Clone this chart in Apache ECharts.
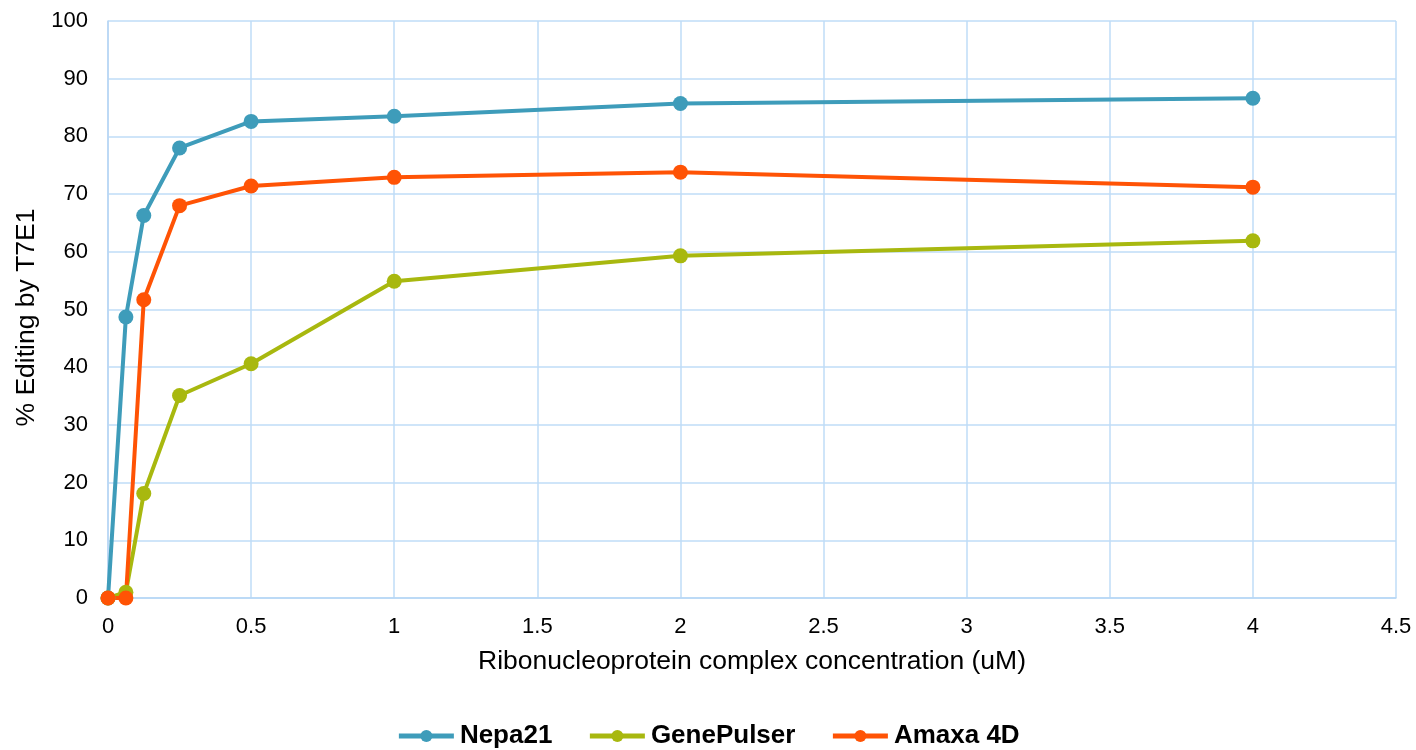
<!DOCTYPE html>
<html><head><meta charset="utf-8">
<script src="https://cdn.jsdelivr.net/npm/echarts@6/dist/echarts.min.js"></script>
<style>html,body{margin:0;padding:0;background:#fff}#c{width:1416px;height:750px}</style>
</head><body><div id="c"></div>
<script>
const concentrations = [0, 0.0625, 0.125, 0.25, 0.5, 1, 2, 4];
const nepa21 = [0, 48.7, 66.3, 78.0, 82.6, 83.5, 85.7, 86.6];
const genePulser = [0, 1.0, 18.1, 35.1, 40.6, 54.9, 59.3, 61.9];
const amaxa4D = [0, 0, 51.7, 68.0, 71.4, 72.9, 73.8, 71.2];
const seriesNames = ['Nepa21', 'GenePulser', 'Amaxa 4D'];
const colors = ['#3E9CBA', '#A8B80F', '#FF5305'];
const pair = arr => concentrations.map((x, i) => [x, arr[i]]);
const font = '"Liberation Sans", Arial, sans-serif';
const chart = echarts.init(document.getElementById('c'));
chart.setOption({
  animation: false,
  grid: {left: 108, right: 20, top: 21, bottom: 152},
  legend: {
    top: 718, left: 'center', itemWidth: 55, itemHeight: 15, itemGap: 35,
    lineStyle: {width: 5},
    textStyle: {fontFamily: font, fontSize: 26, fontWeight: 'bold', color: '#000', padding: [0, 0, 0, 1]},
    data: seriesNames
  },
  xAxis: {
    type: 'value', min: 0, max: 4.5, interval: 0.5,
    name: 'Ribonucleoprotein complex concentration (uM)', nameLocation: 'middle', nameGap: 50,
    nameTextStyle: {fontFamily: font, fontSize: 26.5, color: '#000'},
    axisLine: {show: true, lineStyle: {color: '#B7D6F5', width: 1.5}},
    axisTick: {show: false},
    axisLabel: {fontFamily: font, fontSize: 22, color: '#000', margin: 18},
    splitLine: {show: true, lineStyle: {color: '#BFDCF7', width: 1.5}}
  },
  yAxis: {
    type: 'value', min: 0, max: 100, interval: 10,
    name: '% Editing by T7E1', nameLocation: 'middle', nameGap: 66,
    nameTextStyle: {fontFamily: font, fontSize: 26.5, color: '#000', padding: [0, 16, 0, 0]},
    axisLine: {show: true, lineStyle: {color: '#B7D6F5', width: 1.5}},
    axisTick: {show: false},
    axisLabel: {fontFamily: font, fontSize: 22, color: '#000', margin: 20},
    splitLine: {show: true, lineStyle: {color: '#BFDCF7', width: 1.5}}
  },
  series: [nepa21, genePulser, amaxa4D].map((d, i) => ({
    name: seriesNames[i], type: 'line', data: pair(d),
    symbol: 'circle', symbolSize: 15,
    lineStyle: {width: 4, color: colors[i]},
    itemStyle: {color: colors[i]}
  }))
});
</script></body></html>
